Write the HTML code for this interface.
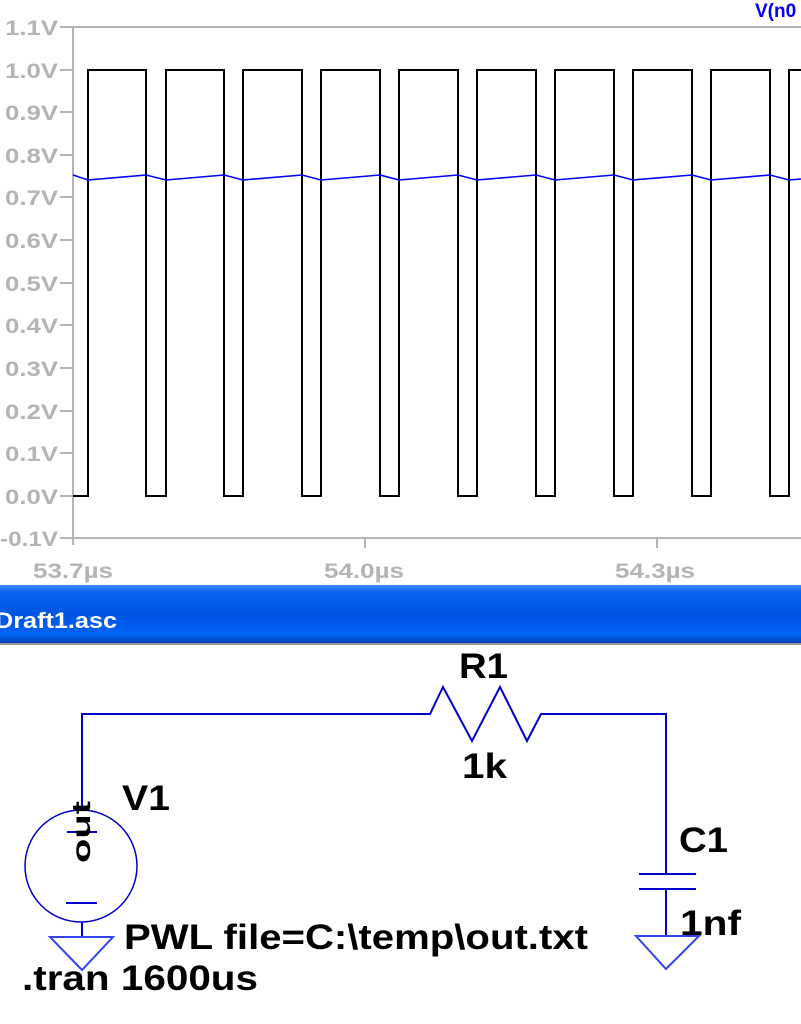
<!DOCTYPE html>
<html><head><meta charset="utf-8"><style>
html,body{margin:0;padding:0;background:#fff;width:801px;height:1024px;overflow:hidden}
svg{display:block}
</style></head><body>
<svg width="801" height="1024" viewBox="0 0 801 1024" xmlns="http://www.w3.org/2000/svg">
<defs>
<linearGradient id="tb" x1="0" y1="0" x2="0" y2="1">
<stop offset="0" stop-color="#3d8bff"/><stop offset="0.12" stop-color="#0a64f0"/><stop offset="0.5" stop-color="#0054e0"/><stop offset="0.85" stop-color="#0062f5"/><stop offset="1" stop-color="#0040b8"/>
</linearGradient>
</defs>
<g font-family="Liberation Sans, sans-serif" font-size="21" font-weight="bold" fill="#b4b4b4" lengthAdjust="spacingAndGlyphs">
<text x="5" y="35" textLength="53" lengthAdjust="spacingAndGlyphs">1.1V</text><text x="5" y="78" textLength="53" lengthAdjust="spacingAndGlyphs">1.0V</text><text x="5" y="120" textLength="53" lengthAdjust="spacingAndGlyphs">0.9V</text><text x="5" y="163" textLength="53" lengthAdjust="spacingAndGlyphs">0.8V</text><text x="5" y="205" textLength="53" lengthAdjust="spacingAndGlyphs">0.7V</text><text x="5" y="248" textLength="53" lengthAdjust="spacingAndGlyphs">0.6V</text><text x="5" y="291" textLength="53" lengthAdjust="spacingAndGlyphs">0.5V</text><text x="5" y="333" textLength="53" lengthAdjust="spacingAndGlyphs">0.4V</text><text x="5" y="376" textLength="53" lengthAdjust="spacingAndGlyphs">0.3V</text><text x="5" y="419" textLength="53" lengthAdjust="spacingAndGlyphs">0.2V</text><text x="5" y="461" textLength="53" lengthAdjust="spacingAndGlyphs">0.1V</text><text x="5" y="504" textLength="53" lengthAdjust="spacingAndGlyphs">0.0V</text><text x="0" y="546" textLength="58" lengthAdjust="spacingAndGlyphs">-0.1V</text>
</g>
<g stroke="#b4b4b4" stroke-width="2" fill="none">
<path d="M73 27 H801 M73 27 V545 M73 538 H801 M365 538 V548 M657 538 V548"/>
<path d="M60 27H73M60 70H73M60 112H73M60 155H73M60 197H73M60 240H73M60 283H73M60 325H73M60 368H73M60 411H73M60 453H73M60 496H73M60 538H73"/>
</g>
<g font-family="Liberation Sans, sans-serif" font-size="21" font-weight="bold" fill="#b4b4b4">
<text x="33" y="578" textLength="80" lengthAdjust="spacingAndGlyphs">53.7µs</text><text x="324" y="578" textLength="80" lengthAdjust="spacingAndGlyphs">54.0µs</text><text x="615" y="578" textLength="80" lengthAdjust="spacingAndGlyphs">54.3µs</text>
</g>
<text x="755" y="17" font-family="Liberation Sans, sans-serif" font-size="19" font-weight="bold" fill="#0000ff">V(n0</text>
<path d="M73 496 H88 V70 H146 V496 H166 V70 H224 V496 H243 V70 H302 V496 H321 V70 H380 V496 H399 V70 H458 V496 H477 V70 H536 V496 H555 V70 H614 V496 H633 V70 H692 V496 H711 V70 H770 V496 H789 V70 H801" stroke="#000" stroke-width="2" fill="none"/>
<path d="M73 175 L88 180 L146 175 L166 180 L224 175 L243 180 L302 175 L321 180 L380 175 L399 180 L458 175 L477 180 L536 175 L555 180 L614 175 L633 180 L692 175 L711 180 L770 175 L789 180 L801 179" stroke="#0000ff" stroke-width="1.6" fill="none"/>
<rect x="0" y="585" width="801" height="58" fill="url(#tb)"/>
<rect x="0" y="643" width="801" height="2" fill="#999"/>
<text x="-5" y="628" font-family="Liberation Sans, sans-serif" font-size="22" font-weight="bold" fill="#fff" textLength="122" lengthAdjust="spacingAndGlyphs">Draft1.asc</text>
<g stroke="#0000cc" stroke-width="2" fill="none">
<path d="M82 808 V714 H430 L443 687 L472 741 L500 687 L527 741 L541 714 H666 V874"/>
<path d="M639 874 H696 M639 889 H696 M666 889 V936"/>
<circle cx="81" cy="866" r="56" stroke-width="1.5"/>
<path d="M66 903 H97 M67 832 H97 M82 922 V937"/>
<path d="M50 937 H113 L82 970 Z" stroke="#3344ee"/>
<path d="M636 936 H699 L666 969 Z" stroke="#3344ee"/>
</g>
<text transform="translate(90 863) rotate(-90)" font-family="Liberation Sans, sans-serif" font-size="26" font-weight="bold" fill="#000" textLength="62" lengthAdjust="spacingAndGlyphs">out</text>
<g font-family="Liberation Sans, sans-serif" font-size="35" font-weight="bold" fill="#000">
<text x="459" y="678" textLength="49" lengthAdjust="spacingAndGlyphs">R1</text>
<text x="462" y="778" textLength="45" lengthAdjust="spacingAndGlyphs">1k</text>
<text x="122" y="810" textLength="48" lengthAdjust="spacingAndGlyphs">V1</text>
<text x="679" y="852" textLength="49" lengthAdjust="spacingAndGlyphs">C1</text>
<text x="680" y="935" textLength="61" lengthAdjust="spacingAndGlyphs">1nf</text>
<text x="124" y="949" textLength="464" lengthAdjust="spacingAndGlyphs">PWL file=C:\temp\out.txt</text>
<text x="22" y="990" textLength="236" lengthAdjust="spacingAndGlyphs">.tran 1600us</text>
</g>
</svg>
</body></html>
